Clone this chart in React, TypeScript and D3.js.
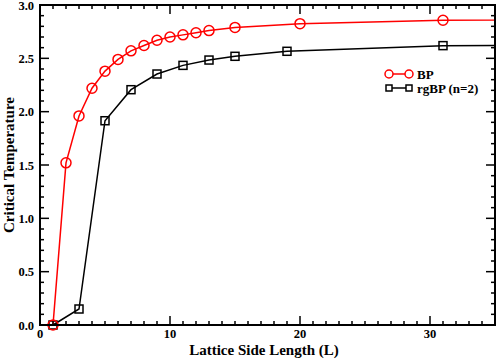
import React from "react";
import * as d3 from "d3";

const bpL = [1, 2, 3, 4, 5, 6, 7, 8, 9, 10, 11, 12, 13, 15, 20, 31, 63];
const bpT = [0, 1.52, 1.96, 2.22, 2.38, 2.49, 2.57, 2.62, 2.67, 2.7, 2.72, 2.74, 2.76, 2.79, 2.825, 2.857, 2.875];
const rgL = [1, 3, 5, 7, 9, 11, 13, 15, 19, 31, 63];
const rgT = [0, 0.15, 1.915, 2.206, 2.353, 2.434, 2.484, 2.519, 2.566, 2.619, 2.63];
const xMajor = [0, 10, 20, 30];
const yMajor = [0, 0.5, 1, 1.5, 2, 2.5, 3];

const W = 498, H = 359;
const m = { l: 40, r: 3, t: 5, b: 34 };

export default function App() {
  const x = d3.scaleLinear().domain([0, 35]).range([m.l, W - m.r]);
  const y = d3.scaleLinear().domain([0, 3]).range([H - m.b, m.t]);
  const xMinor = d3.range(0, 36, 1);
  const yMinor = d3.range(0, 3.001, 0.1);
  const line = d3.line<[number, number]>().x(d => x(d[0])).y(d => y(d[1]));
  const bp = bpL.map((l, i) => [l, bpT[i]] as [number, number]);
  const rg = rgL.map((l, i) => [l, rgT[i]] as [number, number]);
  const x0 = x(0), x1 = x(35), y0 = y(0), y1 = y(3);
  const sq = 8;
  return (
    <svg width={W} height={H} style={{ position: "absolute", left: 0, top: 0, fontFamily: '"Liberation Serif", "Times New Roman", Times, serif', fontWeight: 700 }}>
      <defs>
        <clipPath id="clip">
          <rect x={x0} y={y1 - 6} width={x1 - x0} height={y0 - y1 + 12} />
        </clipPath>
      </defs>
      <g clipPath="url(#clip)">
        <path d={line(rg) || ""} fill="none" stroke="#000" strokeWidth={1.5} />
        {rg.map((d, i) => (
          <rect key={i} x={x(d[0]) - sq / 2} y={y(d[1]) - sq / 2} width={sq} height={sq} fill="none" stroke="#000" strokeWidth={1.5} />
        ))}
        <path d={line(bp) || ""} fill="none" stroke="#ff0000" strokeWidth={1.5} />
        {bp.map((d, i) => (
          <circle key={i} cx={x(d[0])} cy={y(d[1])} r={5} fill="none" stroke="#ff0000" strokeWidth={1.5} />
        ))}
      </g>
      {xMinor.map(v => {
        const major = v % 10 === 0;
        const len = major ? 9 : 4;
        return (
          <g key={"x" + v}>
            <line x1={x(v)} x2={x(v)} y1={y0} y2={y0 - len} stroke="#000" strokeWidth={1.5} />
            <line x1={x(v)} x2={x(v)} y1={y1} y2={y1 + len} stroke="#000" strokeWidth={1.5} />
          </g>
        );
      })}
      {yMinor.map((v, i) => {
        const major = i % 5 === 0;
        const len = major ? 9 : 4;
        return (
          <g key={"y" + i}>
            <line x1={x0} x2={x0 + len} y1={y(v)} y2={y(v)} stroke="#000" strokeWidth={1.5} />
            <line x1={x1} x2={x1 - len} y1={y(v)} y2={y(v)} stroke="#000" strokeWidth={1.5} />
          </g>
        );
      })}
      <rect x={x0} y={y1} width={x1 - x0} height={y0 - y1} fill="none" stroke="#000" strokeWidth={2} />
      {xMajor.map(v => (
        <text key={"xl" + v} x={x(v)} y={y0 + 13} textAnchor="middle" fontSize={12.5}>{v}</text>
      ))}
      {yMajor.map(v => (
        <text key={"yl" + v} x={x0 - 6} y={Math.max(y(v) + 4.5, 10)} textAnchor="end" fontSize={12.5}>{v.toFixed(1)}</text>
      ))}
      <text x={264} y={355} textAnchor="middle" fontSize={15}>Lattice Side Length (L)</text>
      <text transform={`translate(14,${(y0 + y1) / 2}) rotate(-90)`} textAnchor="middle" fontSize={15}>Critical Temperature</text>
      <g>
        <line x1={389} x2={409} y1={74} y2={74} stroke="#ff0000" strokeWidth={1.5} />
        <circle cx={389} cy={74} r={4} fill="#fff" stroke="#ff0000" strokeWidth={1.5} />
        <circle cx={409} cy={74} r={4} fill="#fff" stroke="#ff0000" strokeWidth={1.5} />
        <text x={417} y={78.5} fontSize={13}>BP</text>
        <line x1={389} x2={409} y1={88} y2={88} stroke="#000" strokeWidth={1.5} />
        <rect x={386} y={85} width={6} height={6} fill="#fff" stroke="#000" strokeWidth={1.5} />
        <rect x={406} y={85} width={6} height={6} fill="#fff" stroke="#000" strokeWidth={1.5} />
        <text x={417} y={92.5} fontSize={13}>rgBP (n=2)</text>
      </g>
    </svg>
  );
}
